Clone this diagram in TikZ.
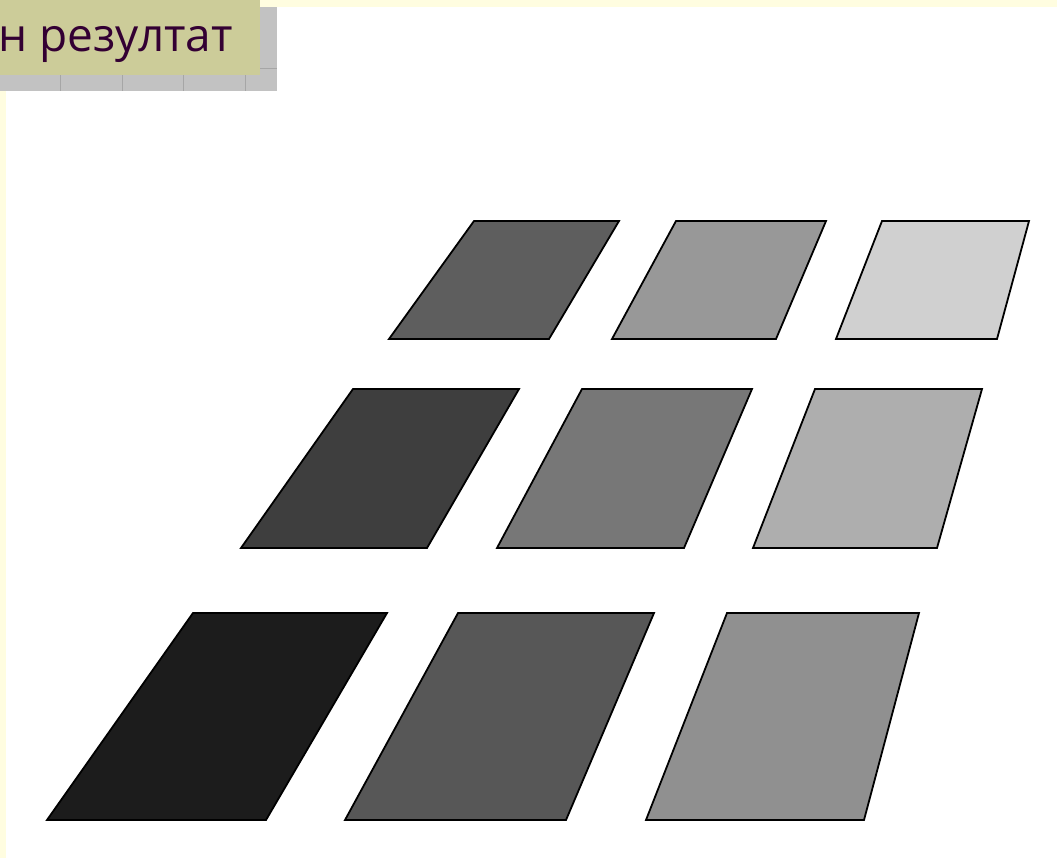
\documentclass[tikz,border=0pt]{standalone}
\usepackage{fontspec}
\setmainfont{Open Sans}
\begin{document}
\begin{tikzpicture}[x=1pt,y=-1pt,
  para/.style={draw=black,line width=1.8pt,line join=miter},
  gridline/.style={draw=gray!70,line width=0.8pt}]
\useasboundingbox (0,0) rectangle (1057,858);
\fill[white] (0,0) rectangle (1057,858);
% yellow frame strips
\fill[yellow!12] (0,0) rectangle (1057,7);
\fill[yellow!12] (0,0) rectangle (6,858);
% gray checkered box behind title
\fill[black!24] (0,7) rectangle (277,91);
\draw[gridline] (0,68) -- (277,68);
\foreach \x in {60,122,183,245} \draw[gridline] (\x,68) -- (\x,91);
% title box
\fill[fill={rgb,255:red,204;green,204;blue,153}] (0,0) rectangle (260,75);
\begin{scope}
\clip (0,0) rectangle (260,75);
\node[anchor=base east,inner sep=0pt,text={rgb,255:red,51;green,0;blue,51},font=\fontsize{46}{50}\selectfont] (title) at (233,52) {н резултат};
\end{scope}
% row 1
\path[para,fill={rgb,255:red,94;green,94;blue,94}]   (474,221) -- (619,221) -- (549,339) -- (389,339) -- cycle;
\path[para,fill={rgb,255:red,152;green,152;blue,152}] (676,221) -- (826,221) -- (776,339) -- (612,339) -- cycle;
\path[para,fill={rgb,255:red,208;green,208;blue,208}] (882,221) -- (1029,221) -- (997,339) -- (836,339) -- cycle;
% row 2
\path[para,fill={rgb,255:red,62;green,62;blue,62}]   (353,389) -- (519,389) -- (427,548) -- (241,548) -- cycle;
\path[para,fill={rgb,255:red,119;green,119;blue,119}] (582,389) -- (752,389) -- (684,548) -- (497,548) -- cycle;
\path[para,fill={rgb,255:red,174;green,174;blue,174}] (815,389) -- (982,389) -- (937,548) -- (753,548) -- cycle;
% row 3
\path[para,fill={rgb,255:red,28;green,28;blue,28}]   (193,613) -- (387,613) -- (266,820) -- (47,820) -- cycle;
\path[para,fill={rgb,255:red,87;green,87;blue,87}]   (458,613) -- (654,613) -- (566,820) -- (345,820) -- cycle;
\path[para,fill={rgb,255:red,144;green,144;blue,144}] (727,613) -- (919,613) -- (864,820) -- (646,820) -- cycle;
\end{tikzpicture}
\end{document}
